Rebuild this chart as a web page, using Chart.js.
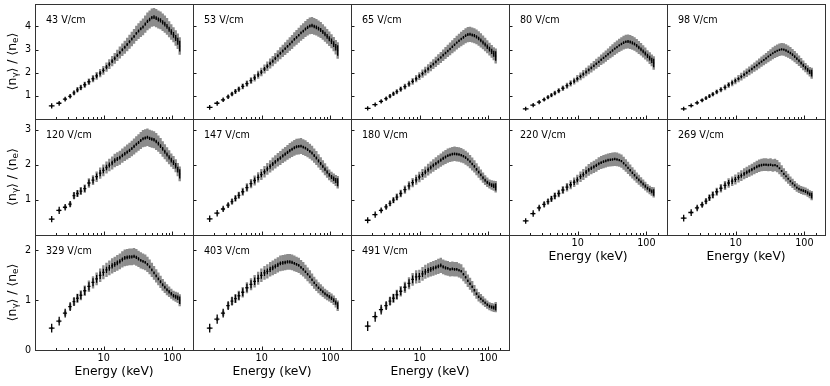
<!DOCTYPE html>
<html>
<head>
<meta charset="utf-8">
<script src="https://cdn.jsdelivr.net/npm/chart.js@4.4.1/dist/chart.umd.min.js"></script>
<style>
  html, body { margin: 0; padding: 0; background: #fff; width: 830px; height: 386px; overflow: hidden; }
  canvas { position: absolute; }
</style>
</head>
<body>
<script>
// ======= Data =======
const energies = [1.75, 2.25, 2.75, 3.25, 3.7, 4.15, 4.65, 5.3, 6.1, 7.0, 7.9, 8.9, 9.9, 11.0, 12.1, 13.3,
  14.5, 15.8, 17.2, 18.7, 20.3, 22.0, 23.8, 25.7, 27.7, 29.9, 32.2, 34.7, 37.4, 40.3, 43.4, 46.7, 50.3,
  54.1, 58.2, 62.6, 67.3, 72.4, 77.8, 83.6, 89.8, 96.5, 104, 112, 120, 128];

// relative statistical (black) and systematic (gray) half-widths
const statRel = [0.20, 0.15, 0.12, 0.10, 0.09, 0.08, 0.075, 0.07, 0.065, 0.06, 0.055, 0.05, 0.045, 0.04, 0.036,
  0.032, 0.029, 0.026, 0.024, 0.022, 0.021, 0.02, 0.019, 0.018, 0.018, 0.017, 0.017, 0.016, 0.016, 0.016,
  0.016, 0.017, 0.017, 0.018, 0.019, 0.02, 0.021, 0.022, 0.024, 0.026, 0.028, 0.031, 0.034, 0.038, 0.045, 0.075];
const sysRel = [0.05, 0.06, 0.07, 0.075, 0.08, 0.085, 0.09, 0.09, 0.09, 0.09, 0.09, 0.09, 0.09, 0.09, 0.09,
  0.09, 0.09, 0.09, 0.09, 0.09, 0.09, 0.09, 0.09, 0.09, 0.09, 0.09, 0.09, 0.09, 0.09, 0.09,
  0.09, 0.09, 0.09, 0.09, 0.09, 0.09, 0.09, 0.09, 0.09, 0.09, 0.09, 0.09, 0.09, 0.095, 0.1, 0.12];

const v43 = [0.57, 0.68, 0.86, 0.98, 1.13, 1.26, 1.36, 1.48, 1.61, 1.74, 1.86, 1.98, 2.10, 2.24, 2.37, 2.50,
  2.62, 2.75, 2.87, 2.99, 3.10, 3.22, 3.34, 3.46, 3.57, 3.70, 3.80, 3.90, 3.98, 4.10, 4.22, 4.30, 4.38, 4.40,
  4.36, 4.30, 4.26, 4.18, 4.10, 4.00, 3.88, 3.76, 3.64, 3.50, 3.36, 3.15];
const v53 = [0.50, 0.68, 0.83, 0.96, 1.08, 1.19, 1.29, 1.41, 1.53, 1.66, 1.78, 1.91, 2.03, 2.16, 2.28, 2.40,
  2.50, 2.62, 2.73, 2.84, 2.94, 3.04, 3.14, 3.24, 3.33, 3.44, 3.53, 3.62, 3.72, 3.80, 3.89, 3.96, 4.02, 4.04,
  4.00, 3.96, 3.91, 3.85, 3.76, 3.67, 3.57, 3.47, 3.36, 3.24, 3.10, 2.96];
const v65 = [0.46, 0.62, 0.76, 0.88, 0.99, 1.09, 1.18, 1.29, 1.40, 1.52, 1.63, 1.74, 1.85, 1.96, 2.07, 2.17,
  2.27, 2.37, 2.47, 2.57, 2.66, 2.76, 2.85, 2.94, 3.03, 3.12, 3.21, 3.30, 3.38, 3.46, 3.53, 3.60, 3.65, 3.66,
  3.63, 3.60, 3.55, 3.48, 3.40, 3.31, 3.22, 3.12, 3.02, 2.92, 2.82, 2.72];
const v80 = [0.44, 0.60, 0.73, 0.84, 0.94, 1.03, 1.12, 1.22, 1.33, 1.44, 1.54, 1.64, 1.74, 1.84, 1.94, 2.03,
  2.12, 2.21, 2.30, 2.39, 2.47, 2.56, 2.64, 2.72, 2.80, 2.88, 2.96, 3.04, 3.11, 3.18, 3.24, 3.30, 3.34, 3.35,
  3.33, 3.29, 3.24, 3.17, 3.09, 3.01, 2.92, 2.83, 2.73, 2.63, 2.53, 2.42];
const v98 = [0.44, 0.58, 0.70, 0.81, 0.90, 0.99, 1.07, 1.17, 1.27, 1.37, 1.47, 1.56, 1.65, 1.74, 1.83, 1.92,
  2.00, 2.08, 2.16, 2.24, 2.32, 2.40, 2.48, 2.55, 2.62, 2.70, 2.77, 2.84, 2.90, 2.95, 2.99, 3.01, 3.00, 2.96,
  2.91, 2.85, 2.78, 2.70, 2.61, 2.52, 2.42, 2.32, 2.22, 2.12, 2.04, 1.98];
const v120 = [0.45, 0.70, 0.79, 0.88, 1.12, 1.18, 1.25, 1.32, 1.48, 1.56, 1.66, 1.76, 1.84, 1.92, 1.99, 2.05,
  2.12, 2.16, 2.20, 2.26, 2.31, 2.36, 2.41, 2.46, 2.52, 2.58, 2.63, 2.69, 2.74, 2.76, 2.78, 2.75, 2.73, 2.71,
  2.66, 2.60, 2.53, 2.45, 2.37, 2.29, 2.21, 2.13, 2.06, 1.97, 1.86, 1.74];
const v147 = [0.46, 0.62, 0.74, 0.85, 0.95, 1.04, 1.13, 1.23, 1.35, 1.46, 1.55, 1.64, 1.72, 1.80, 1.88, 1.95,
  2.02, 2.08, 2.14, 2.19, 2.25, 2.30, 2.35, 2.40, 2.44, 2.48, 2.51, 2.52, 2.53, 2.50, 2.47, 2.43, 2.38, 2.33,
  2.26, 2.19, 2.11, 2.03, 1.95, 1.87, 1.79, 1.71, 1.65, 1.60, 1.55, 1.50];
const v180 = [0.42, 0.58, 0.70, 0.80, 0.90, 0.99, 1.08, 1.18, 1.29, 1.40, 1.49, 1.57, 1.65, 1.72, 1.79, 1.86,
  1.92, 1.98, 2.03, 2.08, 2.13, 2.18, 2.22, 2.26, 2.28, 2.30, 2.31, 2.30, 2.29, 2.27, 2.24, 2.20, 2.15, 2.09,
  2.02, 1.95, 1.87, 1.79, 1.71, 1.63, 1.56, 1.50, 1.45, 1.42, 1.40, 1.37];
const v220 = [0.40, 0.61, 0.77, 0.87, 0.95, 1.03, 1.11, 1.18, 1.28, 1.36, 1.43, 1.50, 1.57, 1.66, 1.72, 1.79,
  1.85, 1.90, 1.94, 1.98, 2.03, 2.06, 2.09, 2.11, 2.13, 2.14, 2.15, 2.16, 2.15, 2.13, 2.10, 2.04, 1.98, 1.91,
  1.84, 1.77, 1.70, 1.63, 1.57, 1.51, 1.45, 1.39, 1.33, 1.28, 1.24, 1.21];
const v269 = [0.48, 0.64, 0.77, 0.86, 0.96, 1.06, 1.14, 1.23, 1.33, 1.41, 1.48, 1.53, 1.58, 1.64, 1.69, 1.74,
  1.78, 1.82, 1.86, 1.90, 1.94, 1.97, 1.99, 2.00, 2.00, 1.99, 2.00, 1.98, 1.99, 1.96, 1.90, 1.82, 1.74, 1.67,
  1.60, 1.53, 1.47, 1.41, 1.35, 1.31, 1.28, 1.26, 1.24, 1.20, 1.16, 1.12];
const v329 = [0.44, 0.58, 0.74, 0.87, 0.97, 1.04, 1.10, 1.19, 1.28, 1.36, 1.43, 1.50, 1.56, 1.61, 1.65, 1.69,
  1.72, 1.75, 1.78, 1.82, 1.85, 1.86, 1.87, 1.87, 1.88, 1.86, 1.83, 1.80, 1.78, 1.76, 1.72, 1.67, 1.61, 1.55,
  1.49, 1.43, 1.37, 1.31, 1.26, 1.21, 1.17, 1.13, 1.09, 1.07, 1.05, 1.00];
const v403 = [0.44, 0.62, 0.74, 0.89, 0.98, 1.03, 1.09, 1.16, 1.25, 1.32, 1.38, 1.44, 1.50, 1.55, 1.58, 1.62,
  1.65, 1.68, 1.71, 1.74, 1.75, 1.76, 1.77, 1.77, 1.76, 1.74, 1.72, 1.70, 1.66, 1.62, 1.57, 1.52, 1.47, 1.41,
  1.35, 1.30, 1.25, 1.21, 1.17, 1.13, 1.10, 1.07, 1.04, 1.00, 0.95, 0.89];
const v491 = [0.48, 0.67, 0.81, 0.89, 0.98, 1.04, 1.11, 1.18, 1.26, 1.34, 1.42, 1.47, 1.48, 1.53, 1.57, 1.60,
  1.62, 1.64, 1.66, 1.68, 1.70, 1.67, 1.65, 1.64, 1.62, 1.63, 1.62, 1.62, 1.60, 1.58, 1.52, 1.46, 1.39, 1.33,
  1.27, 1.20, 1.13, 1.07, 1.03, 0.99, 0.95, 0.91, 0.88, 0.86, 0.85, 0.86];

const fieldLabels = ["43 V/cm", "53 V/cm", "65 V/cm", "80 V/cm", "98 V/cm", "120 V/cm", "147 V/cm",
  "180 V/cm", "220 V/cm", "269 V/cm", "329 V/cm", "403 V/cm", "491 V/cm"];
const fieldValues = [v43, v53, v65, v80, v98, v120, v147, v180, v220, v269, v329, v403, v491];
const rowMax = [4.97, 3.3, 2.31];
const xTickLabels = [10, 100];

// ======= Layout =======
const colLeft = [35, 193, 351, 509, 667];
const rowTop = [4, 119, 235];
const rowH = [115, 116, 115];
const plotW = 158;
const ML = 35, MT = 4, MR = 5, MB = 40;
const FONT = "'DejaVu Sans', sans-serif";
Chart.defaults.font.family = FONT;
Chart.defaults.color = "#000";

// vertical error segments, separated by gaps
function vSegments(values, rel) {
  const pts = [];
  energies.forEach((e, i) => {
    const d = values[i] * rel[i];
    pts.push({ x: e, y: values[i] - d }, { x: e, y: values[i] + d }, { x: e, y: null });
  });
  return pts;
}

// horizontal bin-width segments
function hSegments(values) {
  const pts = [];
  const n = energies.length;
  energies.forEach((e, i) => {
    const prev = i > 0 ? energies[i - 1] : e * e / energies[1];
    const next = i < n - 1 ? energies[i + 1] : e * e / energies[n - 2];
    pts.push({ x: e * Math.pow(prev / e, 0.38), y: values[i] },
             { x: e * Math.pow(next / e, 0.38), y: values[i] },
             { x: e, y: null });
  });
  return pts;
}

function drawYTitle(ctx, cx, cy) {
  const big = "12.3px " + FONT, small = "8.8px " + FONT;
  const parts = [["\u27E8n", big, 0], ["\u03B3", small, 3.2], ["\u27E9 / \u27E8n", big, 0], ["e", small, 3.2], ["\u27E9", big, 0]];
  ctx.save();
  ctx.translate(cx, cy);
  ctx.rotate(-Math.PI / 2);
  ctx.textBaseline = "middle";
  ctx.fillStyle = "#000";
  let total = 0;
  parts.forEach(p => { ctx.font = p[1]; total += ctx.measureText(p[0]).width; });
  let x = -total / 2;
  parts.forEach(p => {
    ctx.font = p[1];
    ctx.fillText(p[0], x, p[2]);
    x += ctx.measureText(p[0]).width;
  });
  ctx.restore();
}

// frame, inward ticks, panel label
const panelDecor = {
  id: "panelDecor",
  afterDatasetsDraw(chart, args, opts) {
    const { ctx, chartArea: a, scales: { x, y } } = chart;
    ctx.save();
    ctx.strokeStyle = "#000";
    ctx.lineWidth = 0.9;
    ctx.beginPath();
    x.ticks.forEach(t => {
      if (t.value <= x.min * 1.001 || t.value >= x.max * 0.999) return;
      const px = Math.round(x.getPixelForValue(t.value)) + 0.5;
      const lg = Math.log10(t.value);
      const len = Math.abs(lg - Math.round(lg)) < 1e-6 ? 3.5 : 2;
      ctx.moveTo(px, a.bottom);
      ctx.lineTo(px, a.bottom - len);
    });
    y.ticks.forEach(t => {
      if (t.value <= y.min || t.value >= y.max) return;
      const py = Math.round(y.getPixelForValue(t.value)) + 0.5;
      ctx.moveTo(a.left, py);
      ctx.lineTo(a.left + 3.5, py);
    });
    ctx.stroke();
    ctx.strokeStyle = "#333";
    ctx.lineWidth = 1;
    ctx.strokeRect(Math.round(a.left) + 0.5, Math.round(a.top) + 0.5,
      Math.round(a.right) - Math.round(a.left), Math.round(a.bottom) - Math.round(a.top));
    ctx.fillStyle = "#000";
    ctx.font = "9.6px " + FONT;
    ctx.textBaseline = "middle";
    ctx.textAlign = "left";
    ctx.fillText(opts.label, a.left + 11, a.top + 16);
    if (opts.yTitle) drawYTitle(ctx, 13, (a.top + a.bottom) / 2);
    ctx.restore();
  }
};

fieldValues.forEach((values, k) => {
  const row = Math.floor(k / 5), col = k % 5;
  const showX = row === 2 || (row === 1 && col >= 3);
  const showY = col === 0;
  const ph = rowH[row];

  const canvas = document.createElement("canvas");
  canvas.width = ML + plotW + MR;
  canvas.height = MT + ph + MB;
  canvas.style.left = (colLeft[col] - ML) + "px";
  canvas.style.top = (rowTop[row] - MT) + "px";
  document.body.appendChild(canvas);

  new Chart(canvas.getContext("2d"), {
    type: "line",
    data: {
      datasets: [
        {
          data: vSegments(values, statRel).concat(hSegments(values)),
          borderColor: "#000",
          borderWidth: 1.3
        },
        {
          data: vSegments(values, sysRel),
          borderColor: "#8c8c8c",
          borderWidth: 2.4
        }
      ]
    },
    options: {
      responsive: false,
      animation: false,
      devicePixelRatio: 1,
      events: [],
      spanGaps: false,
      elements: {
        point: { radius: 0 },
        line: { tension: 0, borderCapStyle: "butt", fill: false }
      },
      layout: { padding: { left: 0, top: MT, right: MR, bottom: 0 } },
      plugins: {
        legend: { display: false },
        tooltip: { enabled: false },
        panelDecor: { label: fieldLabels[k], yTitle: showY }
      },
      scales: {
        x: {
          type: "logarithmic",
          min: 1,
          max: 200,
          afterFit: s => { s.height = MB; s.paddingLeft = 0; s.paddingRight = 0; },
          grid: { display: false, drawTicks: false },
          border: { display: false },
          ticks: {
            display: showX,
            autoSkip: false,
            maxRotation: 0,
            includeBounds: false,
            padding: 3,
            font: { size: 9.6 },
            callback: v => xTickLabels.includes(v) ? String(v) : ""
          },
          title: {
            display: showX,
            text: "Energy (keV)",
            font: { size: 12.3 },
            padding: { top: 0, bottom: 11 }
          }
        },
        y: {
          type: "linear",
          min: 0,
          max: rowMax[row],
          afterFit: s => { s.width = ML; s.paddingTop = 0; s.paddingBottom = 0; },
          grid: { display: false, drawTicks: false },
          border: { display: false },
          ticks: {
            display: showY,
            stepSize: 1,
            includeBounds: false,
            padding: 4,
            font: { size: 9.6 },
            callback: v => (v === 0 && row < 2) ? "" : String(v)
          }
        }
      }
    },
    plugins: [panelDecor]
  });
});
</script>
</body>
</html>
